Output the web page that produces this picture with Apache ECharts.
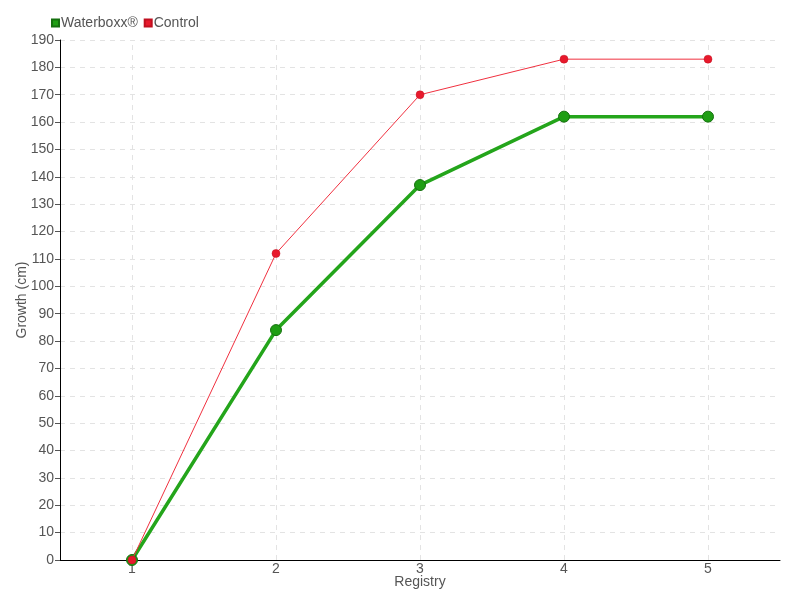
<!DOCTYPE html>
<html><head><meta charset="utf-8">
<script src="https://cdn.jsdelivr.net/npm/echarts@6/dist/echarts.min.js"></script>
<style>html,body{margin:0;padding:0;background:#fff;overflow:hidden}#c{width:800px;height:600px}</style>
</head><body><div id="c"></div>
<script>
const categories = ['1','2','3','4','5'];
const waterboxx = [0, 84, 137, 162, 162];
const control = [0, 112, 170, 183, 183];
const FONT = '"Liberation Sans", "DejaVu Sans", sans-serif';
const chart = echarts.init(document.getElementById('c'));
chart.setOption({
  animation: false,
  textStyle: {fontFamily: FONT},
  legend: {
    left: 46, top: 11, itemWidth: 7, itemHeight: 7, itemGap: 6,
    icon: 'rect',
    textStyle: {fontFamily: FONT, fontSize: 14, color: '#555', padding: [0,0,0,-3]},
    data: ['Waterboxx®', 'Control']
  },
  grid: {left: 60, right: 20, top: 40, bottom: 40},
  xAxis: {
    type: 'category', data: categories, boundaryGap: true,
    name: 'Registry', nameLocation: 'middle', nameGap: 15, nameMoveOverlap: false,
    nameTextStyle: {fontFamily: FONT, fontSize: 14, color: '#555', verticalAlign: 'top'},
    axisLine: {lineStyle: {color: '#000', width: 1}},
    axisTick: {alignWithLabel: true, length: 6, lineStyle: {color: '#555'}},
    axisLabel: {fontFamily: FONT, fontSize: 14, color: '#555', margin: 2},
    splitLine: {show: false}
  },
  yAxis: {
    type: 'value', min: 0, max: 190, interval: 10,
    name: 'Growth (cm)', nameLocation: 'middle', nameGap: 31, nameMoveOverlap: false,
    nameTextStyle: {fontFamily: FONT, fontSize: 14, color: '#555'},
    axisLine: {show: true, lineStyle: {color: '#000', width: 1}},
    axisTick: {show: true, length: 5, lineStyle: {color: '#555'}},
    axisLabel: {fontFamily: FONT, fontSize: 14, color: '#555', margin: 6},
    splitLine: {show: true, lineStyle: {color: '#e3e3e3', type: [5,5]}}
  },
  series: [
    {
      name: 'Waterboxx®', type: 'line', data: waterboxx, z: 2,
      color: '#1f9e14',
      lineStyle: {color: '#24a51b', width: 3.5},
      symbol: 'circle', symbolSize: 11,
      itemStyle: {color: '#1f9e14', borderColor: '#15700e', borderWidth: 1},
      markLine: {
        silent: true, symbol: 'none', z: 0,
        label: {show: false},
        lineStyle: {color: '#e3e3e3', type: [5,5], width: 1},
        data: categories.map(c => ({xAxis: c}))
      }
    },
    {
      name: 'Control', type: 'line', data: control, z: 3,
      color: '#e8192c',
      lineStyle: {color: '#f0303f', width: 1},
      symbol: 'circle', symbolSize: 8,
      itemStyle: {color: '#e8192c', borderColor: '#c01020', borderWidth: 0.5}
    }
  ]
});
</script></body></html>
